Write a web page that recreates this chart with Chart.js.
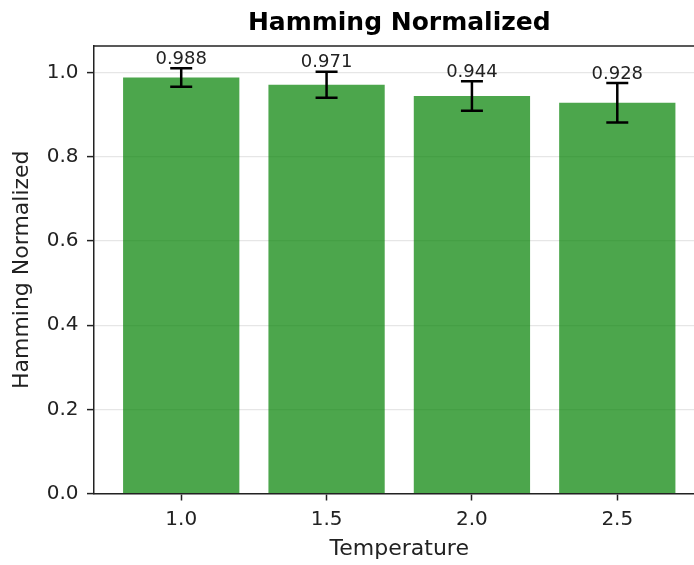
<!DOCTYPE html>
<html>
<head>
<meta charset="utf-8">
<script src="https://cdn.jsdelivr.net/npm/chart.js@4.4.0/dist/chart.umd.min.js"></script>
<style>
  html, body { margin: 0; padding: 0; background: #fff; overflow: hidden; }
  #wrap { width: 694px; height: 565px; overflow: hidden; }
</style>
</head>
<body>
<div id="wrap"><canvas id="chart" width="710" height="565"></canvas></div>
<script>
// Hamming normalizado por temperatura (media y desviación)
const temperatures = [1.0, 1.5, 2.0, 2.5];
const hammingMean = [0.988, 0.971, 0.944, 0.928];
const hammingStd = [0.022, 0.031, 0.035, 0.047];
const yTicks = [0.0, 0.2, 0.4, 0.6, 0.8, 1.0];

const FONT = "'DejaVu Sans', sans-serif";
const INK = '#222';

// Barras de error con tapas y el valor encima
const errorBars = {
    id: 'errorBars',
    afterDatasetsDraw(chart) {
        const ctx = chart.ctx;
        const y = chart.scales.y;
        const bars = chart.getDatasetMeta(0).data;
        ctx.save();
        ctx.strokeStyle = '#000';
        ctx.lineWidth = 2.5;
        bars.forEach((bar, i) => {
            const top = y.getPixelForValue(hammingMean[i] + hammingStd[i]);
            const bottom = y.getPixelForValue(hammingMean[i] - hammingStd[i]);
            ctx.beginPath();
            ctx.moveTo(bar.x, top);
            ctx.lineTo(bar.x, bottom);
            ctx.moveTo(bar.x - 11, top);
            ctx.lineTo(bar.x + 11, top);
            ctx.moveTo(bar.x - 11, bottom);
            ctx.lineTo(bar.x + 11, bottom);
            ctx.stroke();

            ctx.fillStyle = INK;
            ctx.font = '18px ' + FONT;
            ctx.textAlign = 'center';
            ctx.textBaseline = 'alphabetic';
            ctx.fillText(hammingMean[i].toFixed(3), bar.x,
                y.getPixelForValue(hammingMean[i] + hammingStd[i] + 0.01));
        });
        ctx.restore();
    }
};

// Línea superior del área del gráfico
const topSpine = {
    id: 'topSpine',
    afterDraw(chart) {
        const { ctx, chartArea: a } = chart;
        ctx.save();
        ctx.strokeStyle = INK;
        ctx.lineWidth = 1.5;
        ctx.beginPath();
        ctx.moveTo(a.left, a.top);
        ctx.lineTo(a.right, a.top);
        ctx.stroke();
        ctx.restore();
    }
};

const ctx = document.getElementById('chart').getContext('2d');
const hammingChart = new Chart(ctx, {
    type: 'bar',
    data: {
        datasets: [{
            data: temperatures.map((t, i) => ({ x: t, y: hammingMean[i] })),
            backgroundColor: 'rgba(0, 128, 0, 0.7)',
            borderWidth: 0,
            barPercentage: 0.8,
            categoryPercentage: 1.0
        }]
    },
    options: {
        responsive: false,
        animation: false,
        devicePixelRatio: 1,
        layout: { padding: { left: 0, right: 5.5, top: 0, bottom: 0 } },
        plugins: {
            legend: { display: false },
            tooltip: { enabled: false },
            title: {
                display: true,
                text: 'Hamming Normalized',
                fullSize: false,
                color: '#000',
                font: { family: FONT, size: 25, weight: 'bold', lineHeight: 1.2 },
                padding: { top: 8, bottom: 8 }
            }
        },
        scales: {
            x: {
                type: 'linear',
                min: 0.7,
                max: 2.8,
                offset: false,
                afterBuildTicks: s => { s.ticks = temperatures.map(v => ({ value: v })); },
                afterFit: s => { s.height = 71.5; },
                grid: { offset: false, drawOnChartArea: false, drawTicks: true, tickLength: 7, tickColor: INK, tickWidth: 1.5 },
                border: { color: INK, width: 1.5 },
                ticks: {
                    color: INK,
                    padding: 7,
                    font: { family: FONT, size: 20 },
                    callback: v => Number(v).toFixed(1)
                },
                title: {
                    display: true,
                    text: 'Temperature',
                    color: INK,
                    font: { family: FONT, size: 22, lineHeight: 1.2 },
                    padding: { top: 0, bottom: 2.5 }
                }
            },
            y: {
                min: 0,
                max: 1.063,
                afterBuildTicks: s => { s.ticks = yTicks.map(v => ({ value: v })); },
                afterFit: s => { s.width = 94; },
                grid: { color: '#e6e6e6', lineWidth: 1.2, tickLength: 7, tickColor: INK, tickWidth: 1.5 },
                border: { color: INK, width: 1.5 },
                ticks: {
                    color: INK,
                    padding: 8.5,
                    font: { family: FONT, size: 20 },
                    callback: v => Number(v).toFixed(1)
                },
                title: {
                    display: true,
                    text: 'Hamming Normalized',
                    color: INK,
                    font: { family: FONT, size: 22, lineHeight: 1.2 },
                    padding: { top: 9, bottom: 0 }
                }
            }
        }
    },
    plugins: [errorBars, topSpine]
});
</script>
</body>
</html>
